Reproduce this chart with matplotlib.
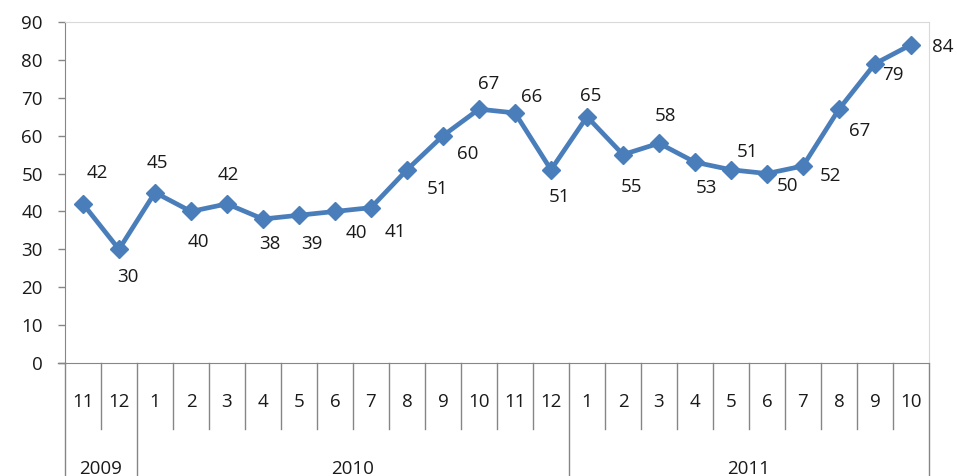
import matplotlib
matplotlib.use("Agg")
import matplotlib.pyplot as plt

# data
months = ["11", "12", "1", "2", "3", "4", "5", "6", "7", "8", "9", "10",
          "11", "12", "1", "2", "3", "4", "5", "6", "7", "8", "9", "10"]
years = ["2009", "2010", "2011"]
year_counts = [2, 12, 10]
values = [42, 30, 45, 40, 42, 38, 39, 40, 41, 51, 60, 67,
          66, 51, 65, 55, 58, 53, 51, 50, 52, 67, 79, 84]

# label offsets (pixels, x right / y up) mimicking Excel's placement
label_offsets = [(14, 31), (9, -28), (2, 30), (7, -31), (1, 29), (7, -25),
                 (13, -29), (21, -22), (24, -24), (30, -19), (25, -18), (10, 25),
                 (17, 16), (8, -27), (4, 21), (9, -32), (7, 27), (11, -26),
                 (16, 18), (21, -12), (27, -10), (21, -22), (18, -11), (32, -2)]

blue = "#4A7EBB"
text_col = "#1a1a1a"
axis_col = "#868686"
fs = 13.5

plt.rcParams['font.family'] = ['Open Sans', 'DejaVu Sans']

fig = plt.figure(figsize=(9.57, 4.76), dpi=100)
ax = fig.add_axes([65 / 957, 113 / 476, 864 / 957, 341 / 476])

x = list(range(len(values)))
ax.plot(x, values, color=blue, lw=3.4, marker="D", markersize=9, zorder=3)

for xi, v, (dx, dy) in zip(x, values, label_offsets):
    ax.annotate(str(v), (xi, v), xytext=(dx, dy), textcoords="offset pixels",
                ha="center", va="center", fontsize=fs, color=text_col)

ax.set_xlim(-0.5, len(values) - 0.5)
ax.set_ylim(0, 90)
ax.set_yticks(range(0, 91, 10))
ax.tick_params(axis="y", direction="out", length=5, width=1, color=axis_col,
               pad=11, labelsize=fs, labelcolor=text_col)
ax.set_xticks([])

for s in ["top", "right"]:
    ax.spines[s].set_color("#D9D9D9")
ax.spines["left"].set_color(axis_col)
ax.spines["bottom"].set_color(axis_col)
ax.spines["bottom"].set_bounds(-0.5, len(values) - 0.5)

# extend zero line left like the tick
trans = ax.get_xaxis_transform()
ax.plot([-0.7, -0.5], [0, 0], color=axis_col, lw=1, transform=trans, clip_on=False)

# multi-level category axis
month_depth = -0.194
year_depth = -0.34
boundaries = [0]
for c in year_counts:
    boundaries.append(boundaries[-1] + c)
for i in range(len(values) + 1):
    bottom = year_depth if i in boundaries else month_depth
    ax.plot([i - 0.5, i - 0.5], [0, bottom], color=axis_col, lw=1,
            transform=trans, clip_on=False)
for i, m in enumerate(months):
    ax.text(i, -0.114, m, transform=trans, ha="center", va="center",
            fontsize=fs, color=text_col)
for y, a, b in zip(years, boundaries[:-1], boundaries[1:]):
    ax.text((a + b - 1) / 2, -0.31, y, transform=trans, ha="center", va="center",
            fontsize=fs, color=text_col)

fig.savefig("out.png", dpi=100)
